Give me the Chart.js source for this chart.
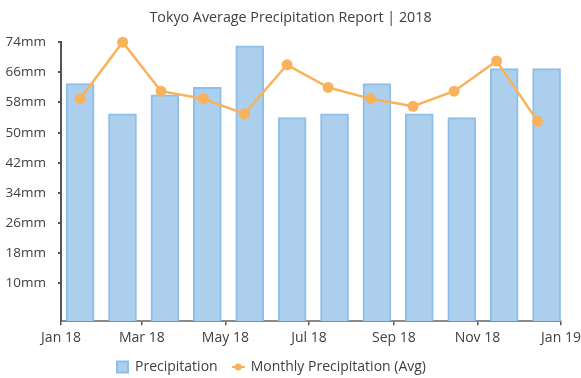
<!DOCTYPE html>
<html>
<head>
<meta charset="utf-8">
<script src="https://cdn.jsdelivr.net/npm/chart.js@4.4.0/dist/chart.umd.min.js"></script>
<style>
  html, body { margin: 0; padding: 0; background: #fff; }
  #wrap { width: 581px; height: 378px; }
</style>
</head>
<body>
<div id="wrap"><canvas id="chart"></canvas></div>
<script>
// Data
var monthNames = ['Jan', 'Feb', 'Mar', 'Apr', 'May', 'Jun', 'Jul', 'Aug', 'Sep', 'Oct', 'Nov', 'Dec'];
var pointDates = ['2018-01-15', '2018-02-15', '2018-03-15', '2018-04-15', '2018-05-15', '2018-06-15',
                  '2018-07-15', '2018-08-15', '2018-09-15', '2018-10-15', '2018-11-15', '2018-12-15'];
var precipitation = [63, 55, 60, 62, 73, 54, 55, 63, 55, 54, 67, 67];
var avgPrecipitation = [59, 74, 61, 59, 55, 68, 62, 59, 57, 61, 69, 53];

var yTicks = [10, 18, 26, 34, 42, 50, 58, 66, 74];
var xTickDates = ['2018-01-01', '2018-03-01', '2018-05-01', '2018-07-01', '2018-09-01', '2018-11-01', '2019-01-01'];
var xTickLabels = ['Jan 18', 'Mar 18', 'May 18', 'Jul 18', 'Sep 18', 'Nov 18', 'Jan 19'];

// day number from Jan 1 2018 (no date adapter offline)
var dayOf = function(s) {
    return (Date.parse(s) - Date.parse('2018-01-01')) / 86400000;
};

var xTickDays = xTickDates.map(dayOf);

var barPoints = [];
for (var i in precipitation) {
    barPoints.push({x: Number(i), y: precipitation[i]});
}
var linePoints = [];
for (var j in avgPrecipitation) {
    linePoints.push({x: dayOf(pointDates[j]), y: avgPrecipitation[j]});
}

var orange = '#f9b25c';

// legend marker for the line: short line with a dot
var lineMarker = document.createElement('canvas');
lineMarker.width = 13;
lineMarker.height = 10;
var mctx = lineMarker.getContext('2d');
mctx.strokeStyle = orange;
mctx.lineWidth = 2;
mctx.beginPath();
mctx.moveTo(0, 5);
mctx.lineTo(13, 5);
mctx.stroke();
mctx.fillStyle = orange;
mctx.beginPath();
mctx.arc(6.5, 5, 3.5, 0, Math.PI * 2);
mctx.fill();

// the legend sits a bit left of centre in the reference
var legendShift = {
    id: 'legendShift',
    afterLayout: function(chart) {
        chart.legend.right -= 38;
        chart.legend.top -= 5;
        chart.legend.bottom -= 5;
    }
};

var font = "'Open Sans', 'Noto Sans', sans-serif";
Chart.defaults.font.family = font;
Chart.defaults.color = '#404040';

var ctx = document.getElementById('chart').getContext('2d');
var chart = new Chart(ctx, {
    data: {
        datasets: [
            {
                type: 'line',
                label: 'Monthly Precipitation (Avg)',
                data: linePoints,
                xAxisID: 'x',
                borderColor: orange,
                backgroundColor: orange,
                borderWidth: 2.5,
                pointRadius: 5.5,
                pointHoverRadius: 5.5,
                pointBorderWidth: 0,
                pointStyle: 'circle',
                tension: 0,
                clip: false,
                order: 0
            },
            {
                type: 'bar',
                label: 'Precipitation',
                data: barPoints,
                xAxisID: 'xBar',
                grouped: false,
                backgroundColor: '#abcfed',
                borderColor: '#8fbfe8',
                borderWidth: 2,
                borderSkipped: 'bottom',
                barThickness: 28,
                pointStyle: 'rect',
                order: 1
            }
        ]
    },
    plugins: [legendShift],
    options: {
        responsive: true,
        maintainAspectRatio: false,
        animation: false,
        layout: { padding: { left: 0, right: 0, top: 0, bottom: -11 } },
        plugins: {
            title: {
                display: true,
                text: 'Tokyo Average Precipitation Report | 2018',
                font: { size: 14.3, weight: 'normal' },
                color: '#404040',
                padding: { top: 9, bottom: 16 }
            },
            legend: {
                position: 'bottom',
                reverse: true,
                labels: {
                    usePointStyle: true,
                    boxWidth: 11,
                    boxHeight: 11,
                    font: { size: 14 },
                    color: '#404040',
                    padding: 15,
                    generateLabels: function(chart) {
                        var labels = Chart.defaults.plugins.legend.labels.generateLabels(chart);
                        labels.forEach(function(l) {
                            if (l.datasetIndex === 0) {
                                l.pointStyle = lineMarker;
                            }
                        });
                        return labels;
                    }
                }
            },
            tooltip: { enabled: false }
        },
        scales: {
            x: {
                type: 'linear',
                min: 0,
                max: 365,
                offset: false,
                afterBuildTicks: function(scale) {
                    scale.ticks = xTickDays.map(function(d) { return {value: d}; });
                },
                afterFit: function(scale) { scale.paddingRight = 20; },
                ticks: {
                    autoSkip: false,
                    maxRotation: 0,
                    font: { size: 14 },
                    color: '#404040',
                    padding: 4,
                    callback: function(value, index) { return xTickLabels[index]; }
                },
                grid: { drawOnChartArea: false, color: '#555', tickLength: 4, lineWidth: 1.5 },
                border: { color: '#8a8a8a', width: 2 }
            },
            xBar: {
                type: 'linear',
                axis: 'x',
                display: false,
                offset: false,
                min: -0.45,
                max: 11.34
            },
            y: {
                min: 0,
                max: 74,
                afterBuildTicks: function(scale) {
                    scale.ticks = yTicks.map(function(v) { return {value: v}; });
                },
                afterFit: function(scale) { scale.width = 61; },
                ticks: {
                    font: { size: 13.5 },
                    color: '#404040',
                    padding: 12,
                    callback: function(value) { return value + 'mm'; }
                },
                grid: { drawOnChartArea: false, color: '#555', tickLength: 3, lineWidth: 2 },
                border: { color: '#555', width: 2 }
            }
        }
    }
});
</script>
</body>
</html>
